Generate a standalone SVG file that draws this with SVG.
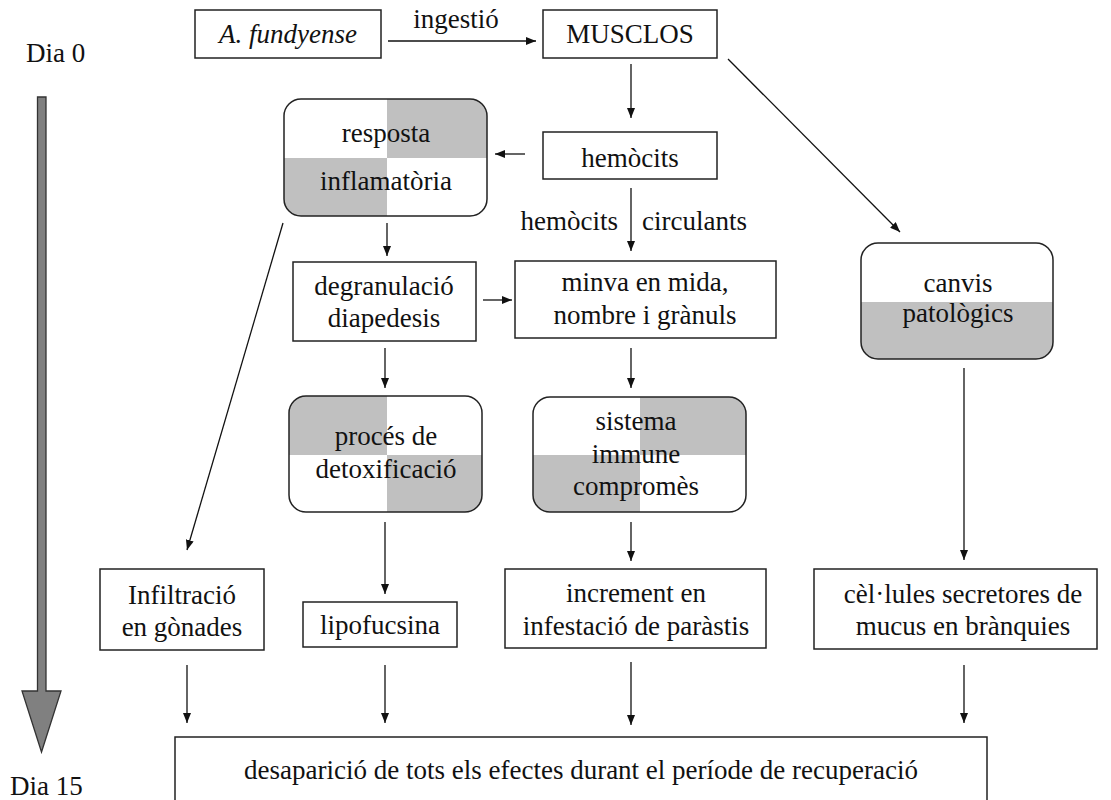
<svg xmlns="http://www.w3.org/2000/svg" width="1111" height="800" viewBox="0 0 1111 800">
<style>
text{font-family:"Liberation Serif","Times New Roman",serif;font-size:27px;fill:#111;text-anchor:middle}
.box{fill:#fff;stroke:#222;stroke-width:1.5}
.rbox{fill:none;stroke:#222;stroke-width:1.5}
.g{fill:#c0c0c0}
.c{stroke:#111;stroke-width:1.3;fill:none;marker-end:url(#ah)}
</style>
<defs>
<marker id="ah" markerUnits="userSpaceOnUse" markerWidth="10" markerHeight="8" refX="10" refY="4" orient="auto">
<path d="M0,0 L10,4 L0,8 z" fill="#111"/>
</marker>
<clipPath id="cpR"><rect x="284" y="99" width="203" height="117" rx="17"/></clipPath>
<clipPath id="cpC"><rect x="861" y="243" width="192" height="116" rx="17"/></clipPath>
<clipPath id="cpD"><rect x="289" y="396" width="193" height="116" rx="17"/></clipPath>
<clipPath id="cpS"><rect x="533" y="397" width="213" height="115" rx="17"/></clipPath>
</defs>
<rect width="1111" height="800" fill="#fff"/>

<g id="timeline">
<polygon points="37.5,97 46,97 46,691 61,691 41.5,752 22,691 37.5,691" fill="#808080" stroke="#333" stroke-width="1.3"/>
<text x="26" y="62" style="text-anchor:start">Dia 0</text>
<text x="10" y="795" style="text-anchor:start">Dia 15</text>
</g>

<g id="connectors">
<path class="c" d="M388,41 H536"/>
<path class="c" d="M631,64 V118"/>
<path class="c" d="M525,154 H495"/>
<path class="c" d="M631,188 V251"/>
<path class="c" d="M728,59 L900,232"/>
<path class="c" d="M387,223 V256"/>
<path class="c" d="M283,223 L187,550"/>
<path class="c" d="M483,300 H512"/>
<path class="c" d="M385,348 V388"/>
<path class="c" d="M631,348 V388"/>
<path class="c" d="M964,368 V560"/>
<path class="c" d="M385,522 V594"/>
<path class="c" d="M631,522 V561"/>
<path class="c" d="M187,665 V723"/>
<path class="c" d="M385,665 V723"/>
<path class="c" d="M631,662 V725"/>
<path class="c" d="M964,665 V723"/>
<text x="456" y="28">ingestió</text>
<text x="618" y="230" style="text-anchor:end">hemòcits</text>
<text x="642" y="230" style="text-anchor:start">circulants</text>
</g>

<g id="afundyense">
<rect class="box" x="195" y="10" width="186" height="48"/>
<text x="288" y="43" font-style="italic">A. fundyense</text>
</g>

<g id="musclos">
<rect class="box" x="543" y="10" width="174" height="48"/>
<text x="630" y="43">MUSCLOS</text>
</g>

<g id="hemocits">
<rect class="box" x="543" y="132" width="174" height="47"/>
<text x="630" y="167">hemòcits</text>
</g>

<g id="resposta">
<rect x="284" y="99" width="203" height="117" rx="17" fill="#fff"/>
<g clip-path="url(#cpR)">
<rect class="g" x="387" y="99" width="100" height="59"/>
<rect class="g" x="284" y="158" width="103" height="58"/>
</g>
<rect class="rbox" x="284" y="99" width="203" height="117" rx="17"/>
<text x="386" y="142">resposta</text>
<text x="386" y="190">inflamatòria</text>
</g>

<g id="degranulacio">
<rect class="box" x="293" y="262" width="183" height="79"/>
<text x="384" y="295">degranulació</text>
<text x="384" y="327">diapedesis</text>
</g>

<g id="minva">
<rect class="box" x="515" y="261" width="261" height="77"/>
<text x="645" y="291">minva en mida,</text>
<text x="645" y="324">nombre i grànuls</text>
</g>

<g id="canvis">
<rect x="861" y="243" width="192" height="116" rx="17" fill="#fff"/>
<g clip-path="url(#cpC)">
<rect class="g" x="861" y="302" width="192" height="57"/>
</g>
<rect class="rbox" x="861" y="243" width="192" height="116" rx="17"/>
<text x="958" y="292">canvis</text>
<text x="958" y="322">patològics</text>
</g>

<g id="detox">
<rect x="289" y="396" width="193" height="116" rx="17" fill="#fff"/>
<g clip-path="url(#cpD)">
<rect class="g" x="289" y="396" width="98" height="59"/>
<rect class="g" x="387" y="455" width="95" height="57"/>
</g>
<rect class="rbox" x="289" y="396" width="193" height="116" rx="17"/>
<text x="386" y="445">procés de</text>
<text x="386" y="478">detoxificació</text>
</g>

<g id="sistema">
<rect x="533" y="397" width="213" height="115" rx="17" fill="#fff"/>
<g clip-path="url(#cpS)">
<rect class="g" x="640" y="397" width="106" height="58"/>
<rect class="g" x="533" y="455" width="107" height="57"/>
</g>
<rect class="rbox" x="533" y="397" width="213" height="115" rx="17"/>
<text x="636" y="430">sistema</text>
<text x="636" y="463">immune</text>
<text x="636" y="495">compromès</text>
</g>

<g id="infiltracio">
<rect class="box" x="100" y="569" width="164" height="81"/>
<text x="182" y="604">Infiltració</text>
<text x="182" y="636">en gònades</text>
</g>

<g id="lipofucsina">
<rect class="box" x="303" y="602" width="154" height="45"/>
<text x="380" y="634">lipofucsina</text>
</g>

<g id="increment">
<rect class="box" x="505" y="569" width="261" height="79"/>
<text x="636" y="602">increment en</text>
<text x="636" y="635">infestació de paràstis</text>
</g>

<g id="cellules">
<rect class="box" x="814" y="569" width="283" height="80"/>
<text x="963" y="603">cèl·lules secretores de</text>
<text x="963" y="635">mucus en brànquies</text>
</g>

<g id="desaparicio">
<rect class="box" x="175" y="737" width="812" height="70"/>
<text x="581" y="779">desaparició de tots els efectes durant el període de recuperació</text>
</g>
</svg>
